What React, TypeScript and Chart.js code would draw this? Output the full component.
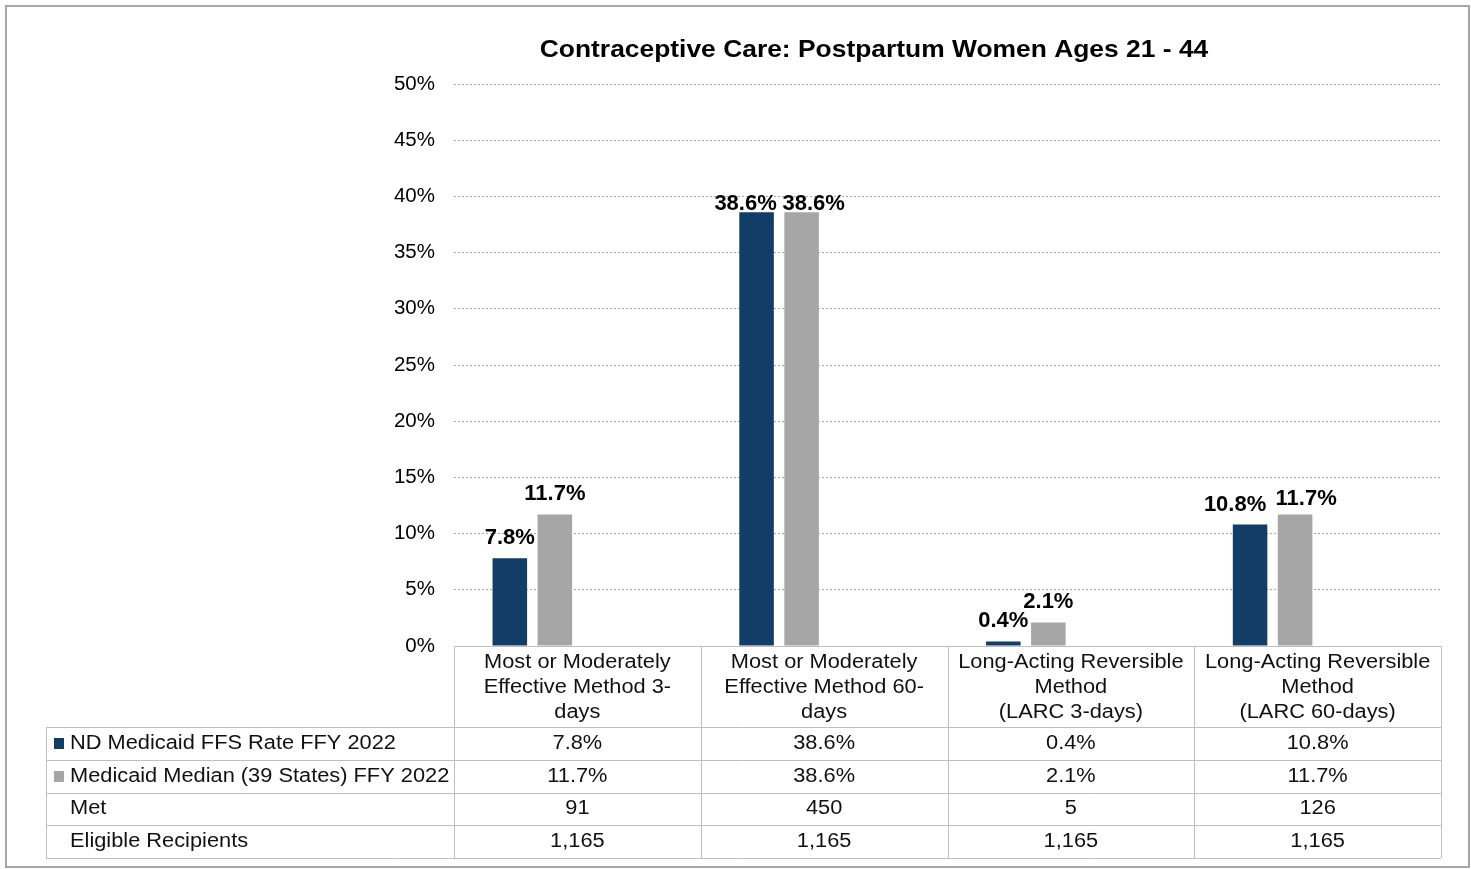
import React, { useEffect, useRef } from 'react';
import { Chart, registerables } from 'chart.js';

Chart.register(...registerables);

const chartTitle = 'Contraceptive Care: Postpartum Women Ages 21 - 44';
const categories = [
  'Most or Moderately Effective Method 3-days',
  'Most or Moderately Effective Method 60-days',
  'Long-Acting Reversible Method (LARC 3-days)',
  'Long-Acting Reversible Method (LARC 60-days)',
];
const categoryLines = [
  ['Most or Moderately', 'Effective Method 3-', 'days'],
  ['Most or Moderately', 'Effective Method 60-', 'days'],
  ['Long-Acting Reversible', 'Method', '(LARC 3-days)'],
  ['Long-Acting Reversible', 'Method', '(LARC 60-days)'],
];
const seriesNames = [
  'ND Medicaid FFS Rate FFY 2022',
  'Medicaid Median (39 States) FFY 2022',
  'Met',
  'Eligible Recipients',
];
const ndRate = [0.078, 0.386, 0.004, 0.108];
const medianRate = [0.117, 0.386, 0.021, 0.117];
const metCounts = [91, 450, 5, 126];
const eligibleCounts = [1165, 1165, 1165, 1165];
const yMin = 0;
const yMax = 0.5;
const yStep = 0.05;

// label placement tweaks (style only): [dx, gap above bar top]
const labelShift = [
  [[0, 14], [-11, 2], [0, 15], [-15, 14]],
  [[0, 14], [12, 2], [0, 14], [11, 9]],
];

const BLUE = '#113d66';
const GRAY = '#a6a6a6';
const LINE = '#bfbfbf';
const FONT = '"Liberation Sans", Arial, sans-serif';

const pct = (v: number) => (v * 100).toFixed(1) + '%';

function stretchText(ctx: any, text: string, x: number, y: number, sx: number) {
  ctx.save();
  ctx.translate(x, y);
  ctx.scale(sx, 1);
  ctx.fillText(text, 0, 0);
  ctx.restore();
}

const decorPlugin = {
  id: 'decor',
  afterDatasetsDraw(chart: any) {
    const ctx = chart.ctx;
    ctx.save();
    ctx.font = `bold 22px ${FONT}`;
    ctx.fillStyle = '#000';
    ctx.textAlign = 'center';
    ctx.textBaseline = 'alphabetic';
    [0, 1].forEach((di) => {
      const meta = chart.getDatasetMeta(di);
      const values = chart.data.datasets[di].data as number[];
      meta.data.forEach((bar: any, i: number) => {
        const v = values[i];
        const [dx, gap] = labelShift[di][i];
        ctx.fillText(pct(v), bar.x + dx, bar.y - gap);
      });
    });
    ctx.restore();
  },
  afterDraw(chart: any) {
    const ctx = chart.ctx;
    const area = chart.chartArea;
    const x = chart.scales.x;
    const n = categories.length;
    const cw = (area.right - area.left) / n;
    const headerH = 81;
    const rowH = 32.75;
    const tableLeft = 46;
    const top = area.bottom;
    const headerBottom = top + headerH;
    const bottom = headerBottom + rowH * 4;
    const SX = 1.09;

    ctx.save();
    // outer border
    ctx.strokeStyle = '#a6a6a6';
    ctx.lineWidth = 2;
    ctx.strokeRect(6, 6, 1463, 861);

    // title
    ctx.fillStyle = '#000';
    ctx.font = `bold 24px ${FONT}`;
    ctx.textAlign = 'center';
    ctx.textBaseline = 'alphabetic';
    stretchText(ctx, chartTitle, 874, 57, 1.1);

    // table lines
    ctx.strokeStyle = LINE;
    ctx.lineWidth = 1;
    ctx.beginPath();
    ctx.moveTo(area.left, Math.round(top) + 0.5);
    ctx.lineTo(area.right, Math.round(top) + 0.5);
    for (let r = 0; r <= 4; r++) {
      const y = Math.round(headerBottom + rowH * r) + 0.5;
      ctx.moveTo(tableLeft, y);
      ctx.lineTo(area.right, y);
    }
    for (let c = 0; c <= n; c++) {
      const xx = Math.round(area.left + cw * c) + 0.5;
      ctx.moveTo(xx, top);
      ctx.lineTo(xx, bottom);
    }
    ctx.moveTo(tableLeft + 0.5, headerBottom);
    ctx.lineTo(tableLeft + 0.5, bottom);
    ctx.stroke();

    // header text
    ctx.font = `20px ${FONT}`;
    ctx.fillStyle = '#111';
    ctx.textAlign = 'center';
    ctx.textBaseline = 'middle';
    categoryLines.forEach((lines, i) => {
      const cx = x.getPixelForValue(i);
      lines.forEach((t, li) => {
        stretchText(ctx, t, cx, top + 16 + li * 25, SX);
      });
    });

    // rows
    const rows: string[][] = [
      ndRate.map(pct),
      medianRate.map(pct),
      metCounts.map((v) => v.toLocaleString('en-US')),
      eligibleCounts.map((v) => v.toLocaleString('en-US')),
    ];
    const swatches = [BLUE, GRAY, null, null];
    rows.forEach((vals, r) => {
      const cy = headerBottom + rowH * r + rowH / 2;
      const sw = swatches[r];
      if (sw) {
        ctx.fillStyle = sw;
        ctx.fillRect(54, Math.round(cy) - 5, 10, 11);
      }
      ctx.fillStyle = '#111';
      ctx.textAlign = 'left';
      stretchText(ctx, seriesNames[r], 70, cy, SX);
      ctx.textAlign = 'center';
      vals.forEach((t, i) => {
        stretchText(ctx, t, x.getPixelForValue(i), cy, SX);
      });
    });
    ctx.restore();
  },
};

export default function App() {
  const ref = useRef<HTMLCanvasElement | null>(null);
  useEffect(() => {
    document.body.style.margin = '0';
    const canvas = ref.current;
    if (!canvas) return;
    const chart = new Chart(canvas, {
      type: 'bar',
      data: {
        labels: categories,
        datasets: [
          { label: seriesNames[0], data: ndRate, backgroundColor: BLUE },
          { label: seriesNames[1], data: medianRate, backgroundColor: GRAY },
          { label: seriesNames[2], data: metCounts.map(() => null), backgroundColor: 'rgba(0,0,0,0)' },
          { label: seriesNames[3], data: eligibleCounts.map(() => null), backgroundColor: 'rgba(0,0,0,0)' },
        ],
      },
      options: {
        responsive: false,
        animation: false,
        devicePixelRatio: 1,
        layout: { padding: { left: 0, top: 84, right: 30, bottom: 223 } },
        datasets: { bar: { categoryPercentage: 0.73, barPercentage: 0.767 } },
        plugins: {
          legend: { display: false },
          title: { display: false },
          tooltip: { enabled: false },
        },
        scales: {
          x: { display: false },
          y: {
            min: yMin,
            max: yMax,
            afterFit: (scale: any) => {
              scale.width = 454;
            },
            ticks: {
              stepSize: yStep,
              padding: 19,
              color: '#000',
              font: { family: FONT, size: 20.5 },
              callback: (v: any) => Math.round(Number(v) * 100) + '%',
            },
            grid: { color: '#a6a6a6', lineWidth: 1, drawTicks: false },
            border: { display: false, dash: [2, 2] },
          },
        },
      },
      plugins: [decorPlugin],
    });
    return () => chart.destroy();
  }, []);
  return (
    <div style={{ position: 'absolute', left: 0, top: 0, width: 1471, height: 869, background: '#fff' }}>
      <canvas ref={ref} width={1471} height={869} />
    </div>
  );
}
